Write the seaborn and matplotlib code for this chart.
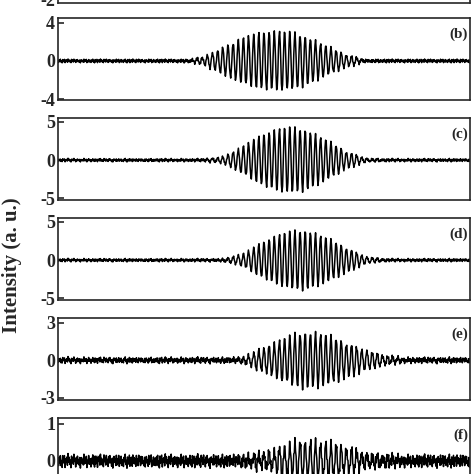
import numpy as np
import matplotlib
matplotlib.use("Agg")
import matplotlib.pyplot as plt
import seaborn as sns
import pandas as pd

sns.set_style("ticks")
plt.rcParams['font.family'] = ['Liberation Serif', 'DejaVu Serif']

labels = ["", "(b)", "(c)", "(d)", "(e)", "(f)"]
yticks = [[-2, 0, 2], [-4, 0, 4], [-5, 0, 5], [-5, 0, 5], [-3, 0, 3], [-1, 0, 1]]
ylims = [(-2.2, 2.2), (-4.1, 4.5), (-5.2, 5.5), (-5.2, 5.5), (-3.2, 3.4), (-1.1, 1.15)]
# envelope amplitude read at 21 evenly spaced x positions (0..1)
env_a = [0.15]*21
env_b = [0.2,0.2,0.2,0.2,0.2,0.2,0.2,0.5,1.6,2.6,3.2,3.3,2.8,1.8,0.8,0.25,0.2,0.2,0.2,0.2,0.2]
env_c = [0.25,0.25,0.25,0.25,0.25,0.25,0.25,0.25,0.6,2.0,3.6,4.5,4.2,2.9,1.3,0.4,0.25,0.25,0.25,0.25,0.25]
env_d = [0.25,0.25,0.25,0.25,0.25,0.25,0.25,0.25,0.3,1.0,2.6,3.8,4.1,3.2,1.8,0.6,0.25,0.25,0.25,0.25,0.25]
env_e = [0.3,0.3,0.3,0.3,0.3,0.3,0.3,0.3,0.3,0.4,1.2,2.0,2.5,2.3,1.6,1.0,0.5,0.3,0.3,0.3,0.3]
env_f = [0.2,0.2,0.2,0.2,0.2,0.2,0.2,0.2,0.2,0.25,0.35,0.55,0.7,0.65,0.5,0.35,0.25,0.2,0.2,0.2,0.2]
envs = [env_a, env_b, env_c, env_d, env_e, env_f]
noise = [0.3,-0.8,0.5,-0.2,0.9,-0.6,0.1,-1.0,0.7,-0.4,0.2,0.8,-0.9,0.4,-0.1,0.6,-0.7,1.0,-0.3,0.5,
         -0.5,0.2,-0.9,0.8,-0.2,0.4,-0.6,0.9,-0.1,0.3,-0.8,0.6,-0.4,0.7,-0.3,0.1,-0.7,0.5,-1.0,0.4,
         0.6,-0.3,0.2,-0.7,0.9,-0.5,0.4,-0.2,0.8,-0.9,0.1,-0.4,0.7,-0.6,0.3]
noise_share = [1.0, 1.0, 0.8, 0.8, 0.8, 0.9]
cycles = 80

n = 700
xs = np.linspace(0, 1, n)
carrier = np.cos(2*np.pi*cycles*xs)
nz = np.array((noise * (n // len(noise) + 1))[:n])

fig = plt.figure(figsize=(4.74, 4.74), dpi=100)
W = H = 474
tops = [-80, 18, 118, 218, 318, 418]
bots = [3, 100, 200, 300, 400, 502]
left, right = 58, 470
for i in range(6):
    ax = fig.add_axes([left/W, 1-bots[i]/H, (right-left)/W, (bots[i]-tops[i])/H])
    e = np.interp(xs, np.linspace(0, 1, 21), envs[i])
    base = envs[i][0]
    y = e*carrier*(1-noise_share[i]*(base/np.maximum(e, 1e-6))) + base*noise_share[i]*nz
    df = pd.DataFrame({"x": xs, "y": y})
    sns.lineplot(data=df, x="x", y="y", ax=ax, color="black", lw=1.1)
    ax.set_xlim(0, 1)
    ax.set_ylim(*ylims[i])
    ax.set_yticks(yticks[i])
    ax.set_yticklabels([str(t) for t in yticks[i]], fontsize=13, fontweight="bold")
    ax.set_xticks([])
    ax.set_xlabel(""); ax.set_ylabel("")
    for s in ax.spines.values():
        s.set_linewidth(1.2); s.set_visible(True)
    ax.tick_params(axis="y", direction="in", length=4, width=1.2, pad=2)
    if labels[i]:
        ax.text(0.995, 0.88, labels[i], transform=ax.transAxes, ha="right", va="top",
                fontsize=11, fontweight="bold")
fig.text(12/W, 1-265/H, "Intensity (a. u.)", rotation=90, ha="center", va="center",
         fontsize=15, fontweight="bold")
fig.savefig("out.png", dpi=100)
